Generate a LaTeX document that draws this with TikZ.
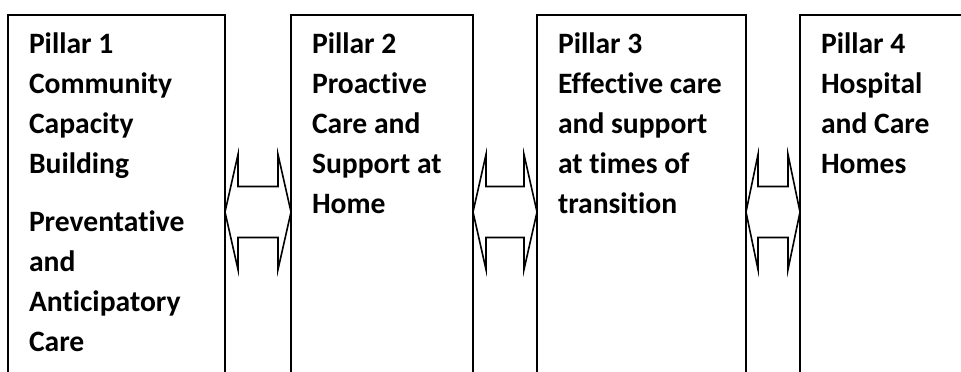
\documentclass[tikz,border=0pt]{standalone}
\usepackage{fontspec}
\setmainfont[Ligatures=NoCommon]{Carlito}
\usetikzlibrary{positioning,calc}

\begin{document}
\begin{tikzpicture}[
  x=0.5pt, y=-0.5pt,
  font=\fontsize{14.8}{20}\selectfont\bfseries,
  node distance=0pt and 33pt,
  pillar/.style={
    draw,
    line width=1pt,
    align=flush left,
    anchor=north west,
    outer sep=0pt,
    inner xsep=10.5pt,
    inner ysep=7pt,
    text height=12pt,
    text depth=200pt
  },
  link/.style={draw, line width=0.8pt, fill=white, miter limit=10}
]
\useasboundingbox (0,0) rectangle (961,371);
\clip (0,0) rectangle (961,371);

% Pillars
\node[pillar, text width=87.5pt] (p1) at (8,15) {Pillar 1\\Community\\Capacity\\Building\\[9pt]Preventative\\and\\Anticipatory\\Care};
\node[pillar, text width=70pt, right=33pt of p1] (p2) {Pillar 2\\Proactive\\Care and\\Support at\\Home};
\node[pillar, text width=83.5pt, right=32pt of p2] (p3) {Pillar 3\\Effective care\\and support\\at times of\\transition};
\node[pillar, text width=100pt, right=27pt of p3] (p4) {Pillar 4\\Hospital\\and Care\\Homes};

% Two-way links between neighbouring pillars
\coordinate (l1) at ($(p1.north east)+(0,197)$);
\coordinate (r1) at ($(p2.north west)+(0,197)$);
\draw[link] (l1) -- ++(13,-57.5) -- ++(0,32) -- ($(r1)+(-13,-25.5)$) -- ++(0,-32) -- (r1)
  -- ++(-13,57.5) -- ++(0,-32) -- ($(l1)+(13,25.5)$) -- ++(0,32) -- cycle;

\coordinate (l2) at ($(p2.north east)+(0,197)$);
\coordinate (r2) at ($(p3.north west)+(0,197)$);
\draw[link] (l2) -- ++(13,-57.5) -- ++(0,32) -- ($(r2)+(-13,-25.5)$) -- ++(0,-32) -- (r2)
  -- ++(-13,57.5) -- ++(0,-32) -- ($(l2)+(13,25.5)$) -- ++(0,32) -- cycle;

\coordinate (l3) at ($(p3.north east)+(0,197)$);
\coordinate (r3) at ($(p4.north west)+(0,197)$);
\draw[link] (l3) -- ++(12,-57.5) -- ++(0,32) -- ($(r3)+(-12,-25.5)$) -- ++(0,-32) -- (r3)
  -- ++(-12,57.5) -- ++(0,-32) -- ($(l3)+(12,25.5)$) -- ++(0,32) -- cycle;

\end{tikzpicture}
\end{document}
